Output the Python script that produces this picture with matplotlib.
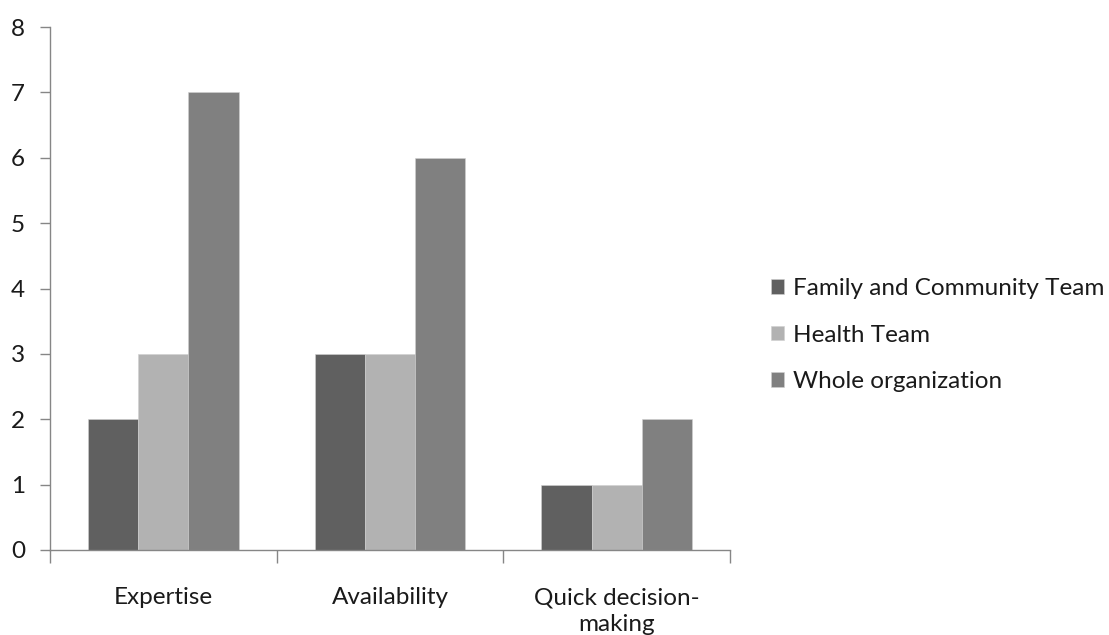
import matplotlib
matplotlib.use("Agg")
import matplotlib.pyplot as plt
import numpy as np

categories = ["Expertise", "Availability", "Quick decision-\nmaking"]
series_names = ["Family and Community Team", "Health Team", "Whole organization"]
family_community = [2, 3, 1]
health_team = [3, 3, 1]
whole_org = [7, 6, 2]
y_ticks = [0, 1, 2, 3, 4, 5, 6, 7, 8]

colors = ["#606060", "#b2b2b2", "#808080"]
axis_color = "#868686"
text_color = "#1a1a1a"

plt.rcParams["font.family"] = ["Lato", "DejaVu Sans"]

fig = plt.figure(figsize=(11.09, 6.35), dpi=100)
ax = fig.add_axes([50 / 1109, 85 / 635, 680 / 1109, 523 / 635])

x = np.arange(len(categories))
bar_w = 0.222
values = [family_community, health_team, whole_org]
for i, (vals, name, col) in enumerate(zip(values, series_names, colors)):
    ax.bar(x + (i - 1) * bar_w, vals, width=bar_w, color=col, label=name,
           edgecolor="#d0d0d0", linewidth=0.4)

ax.set_xlim(-0.5, 2.5)
ax.set_ylim(0, 8)
ax.set_yticks(y_ticks)
ax.set_yticklabels([str(v) for v in y_ticks])

ax.set_xticks([-0.5, 0.5, 1.5, 2.5])
ax.set_xticklabels([])
ax.set_xticks(x, minor=True)
ax.set_xticklabels(categories, minor=True, fontsize=17.5, color=text_color,
                   linespacing=1.3)
ax.tick_params(axis="x", which="minor", length=0, pad=27)
ax.tick_params(axis="x", which="major", length=9, width=1, color=axis_color,
               direction="out")
ax.tick_params(axis="y", length=7, width=1, color=axis_color, direction="out",
               labelsize=17.5, labelcolor=text_color, pad=11)

for side in ["top", "right"]:
    ax.spines[side].set_visible(False)
for side in ["left", "bottom"]:
    ax.spines[side].set_color(axis_color)
    ax.spines[side].set_linewidth(1)

leg = fig.legend(loc="upper left", bbox_to_anchor=(771 / 1109, 1 - 278 / 635),
                 frameon=False, fontsize=17.5, handlelength=0.55,
                 handleheight=0.55, handletextpad=0.35, labelspacing=1.05,
                 borderaxespad=0, borderpad=0)
for t in leg.get_texts():
    t.set_color(text_color)

fig.savefig("out.png", dpi=100)
